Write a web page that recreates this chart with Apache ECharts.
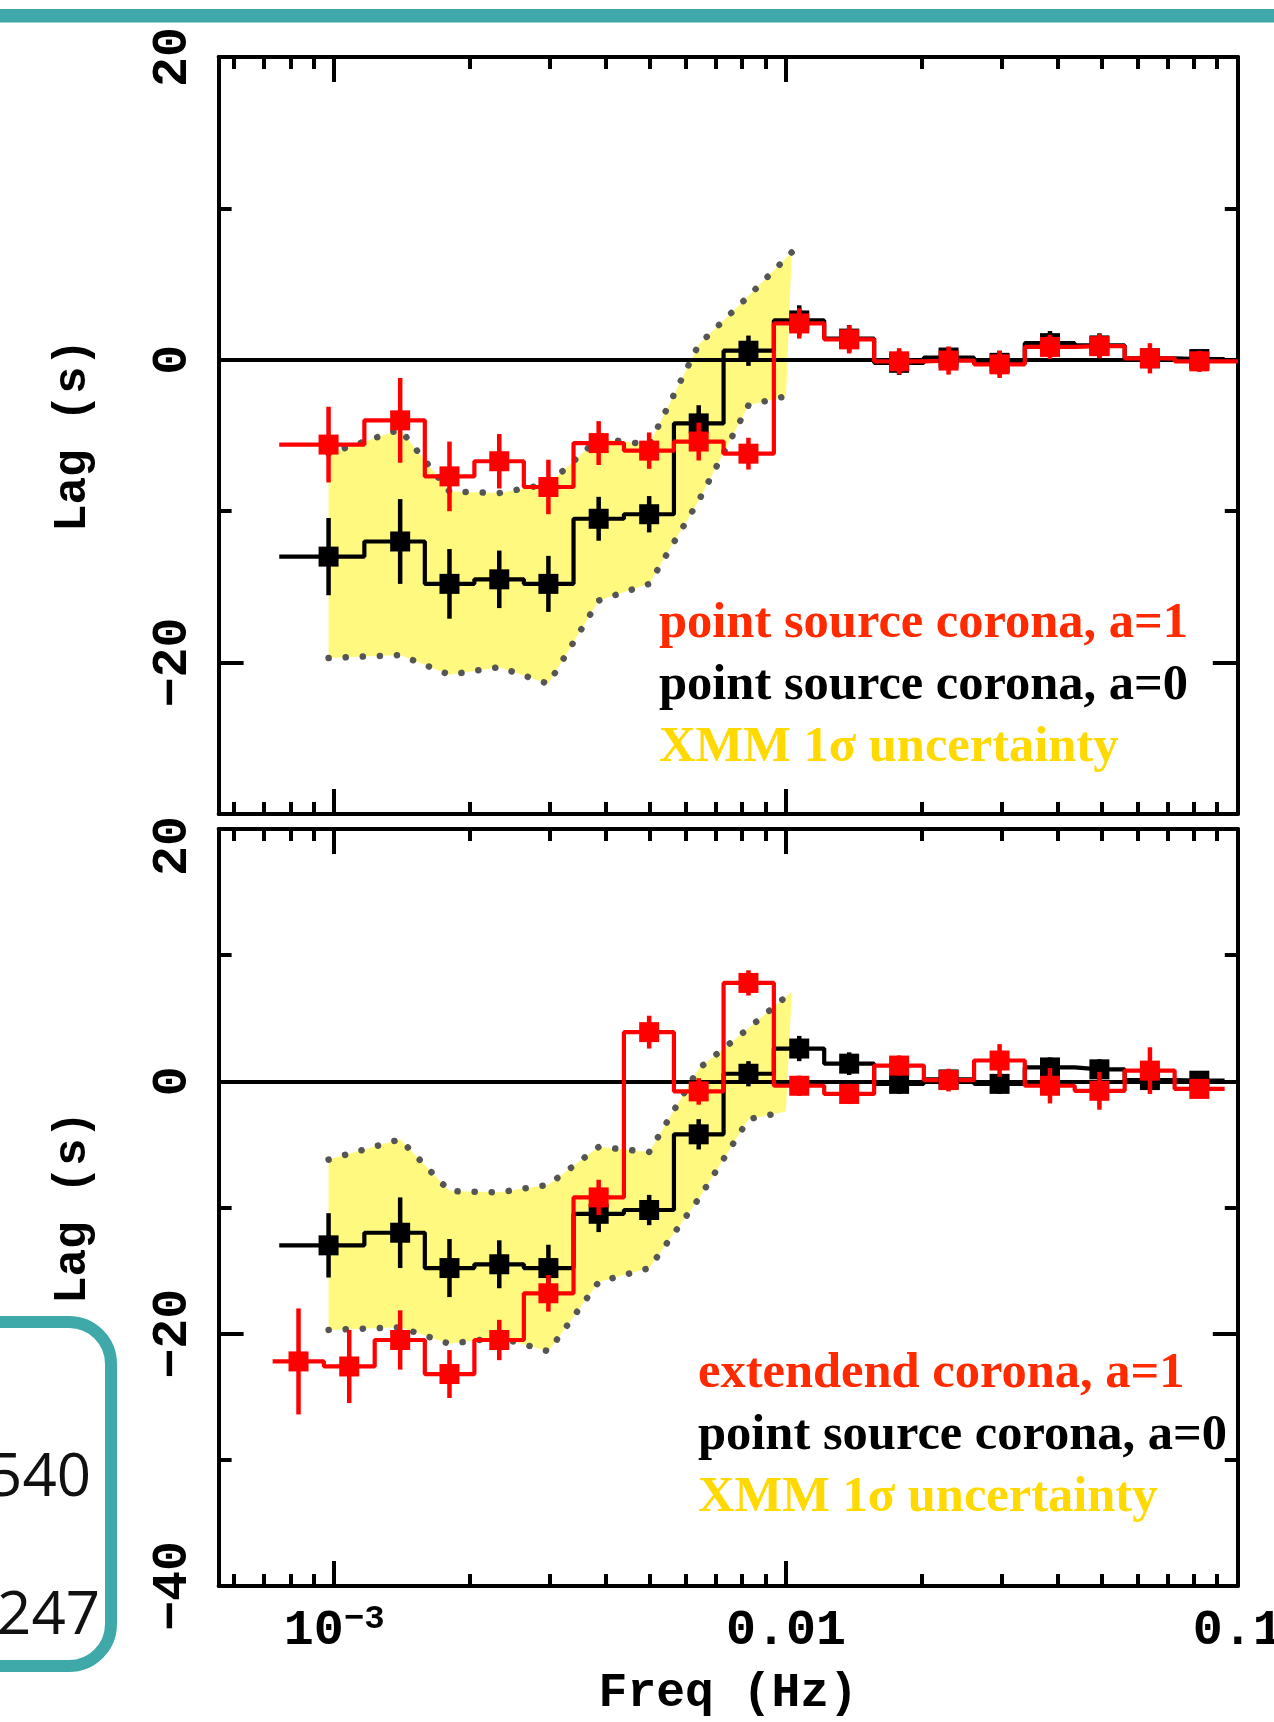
<!DOCTYPE html>
<html>
<head>
<meta charset="utf-8">
<script src="https://cdn.jsdelivr.net/npm/echarts@6/dist/echarts.min.js"></script>
<style>
  html, body { margin: 0; padding: 0; background: #fff; }
  #chart { width: 1274px; height: 1722px; }
</style>
</head>
<body>
<div id="chart"></div>
<script>
// bin frequencies (Hz)
const freq = [9.72e-4, 1.40e-3, 1.80e-3, 2.32e-3, 2.98e-3, 3.85e-3, 4.98e-3, 6.41e-3, 8.26e-3,
              1.07e-2, 1.38e-2, 1.78e-2, 2.29e-2, 2.97e-2, 3.84e-2, 4.94e-2, 6.39e-2, 8.22e-2];
const freqExt = [8.34e-4, 1.08e-3, 1.40e-3, 1.80e-3, 2.32e-3, 2.98e-3, 3.85e-3, 4.98e-3, 6.41e-3, 8.26e-3,
                 1.07e-2, 1.38e-2, 1.78e-2, 2.29e-2, 2.97e-2, 3.84e-2, 4.94e-2, 6.39e-2, 8.22e-2];

// point source corona, a=0 (black, both panels)
const lagA0 = [-13.0, -12.0, -14.8, -14.5, -14.8, -10.5, -10.2, -4.2, 0.6,
               2.6, 1.4, -0.2, 0.15, -0.2, 1.1, 0.95, 0.1, 0.05];
const errA0 = [2.55, 2.8, 2.3, 1.9, 1.85, 1.45, 1.2, 1.2, 1.0,
               1.0, 0.9, 0.8, 0.7, 0.8, 0.8, 0.8, 0.65, 0.6];
// point source corona, a=1 (red, top panel)
const lagA1 = [-5.6, -4.0, -7.7, -6.7, -8.4, -5.5, -6.0, -5.4, -6.2,
               2.4, 1.35, -0.1, -0.05, -0.3, 0.85, 0.9, 0.1, -0.1];
const errA1 = [2.5, 2.8, 2.3, 1.8, 1.8, 1.45, 1.2, 1.25, 1.05,
               1.0, 0.93, 0.87, 0.93, 0.9, 0.8, 0.8, 1.0, 0.7];
// extendend corona, a=1 (red, bottom panel)
const lagExt = [-22.2, -22.6, -20.5, -23.2, -20.5, -16.8, -9.2, 3.9, -0.8, 7.8,
                -0.35, -1.0, 1.25, 0.1, 1.65, -0.35, -0.75, 0.85, -0.6];
const errExt = [4.2, 2.9, 2.35, 1.9, 1.6, 1.45, 1.4, 1.3, 1.05, 1.0,
                0.8, 0.8, 0.8, 0.9, 1.3, 1.4, 1.5, 1.85, 0.6];

// first/last edges of the step histograms (Hz)
const stepA0 = [7.56e-4, 9.35e-2];
const stepA1 = [7.56e-4, 0.1];
const stepExt = [7.31e-4, 9.35e-2];

// XMM 1 sigma band
const bandFreqHi = [9.72e-4, 1.40e-3, 1.80e-3, 2.32e-3, 2.98e-3, 3.85e-3, 4.98e-3, 6.41e-3, 8.26e-3, 1.03e-2];
const bandFreqLo = [9.72e-4, 1.40e-3, 1.80e-3, 2.32e-3, 2.98e-3, 3.85e-3, 4.98e-3, 6.41e-3, 8.26e-3, 1.00e-2];
const bandHi = [-6.2, -4.6, -8.7, -8.8, -8.2, -5.2, -5.6, 1.0, 4.2, 7.1];
const bandLo = [-19.7, -19.5, -20.8, -20.3, -21.4, -15.9, -14.8, -9.3, -3.0, -2.4];

// axes
const xRange = [5.55e-4, 0.1];
const xMajor = [1e-3, 1e-2, 1e-1];
const xMinor = [6e-4, 7e-4, 8e-4, 9e-4, 2e-3, 3e-3, 4e-3, 5e-3, 6e-3, 7e-3, 8e-3, 9e-3,
                2e-2, 3e-2, 4e-2, 5e-2, 6e-2, 7e-2, 8e-2, 9e-2];
const yRangeTop = [-30, 20];
const yRangeBot = [-40, 20];
const yLabelsTop = [-20, 0, 20];
const yLabelsBot = [-40, -20, 0, 20];

const lg = f => Math.log10(f);
const MONO = 'Liberation Mono';
const SERIF = 'Liberation Serif';
const RED = '#ff0000';
const TEAL = '#3fa9a9';
const LW = 4;
const GRID_LEFT = 218.6, GRID_RIGHT = 36.2, GRID_H = 757;

const chart = echarts.init(document.getElementById('chart'));

function xAxes(g) {
  const base = {
    gridIndex: g, type: 'value', min: lg(xRange[0]), max: lg(xRange[1]),
    splitLine: {show: false}, axisLabel: {show: false}
  };
  const major = {inside: true, length: 25, lineStyle: {color: '#000', width: LW}, customValues: xMajor.map(lg)};
  const minor = {inside: true, length: 12, lineStyle: {color: '#000', width: LW}, customValues: xMinor.map(lg)};
  const line = {show: true, onZero: false, lineStyle: {color: '#000', width: LW}};
  const noLine = {show: false, onZero: false};
  const bottom = Object.assign({}, base, {position: 'bottom', axisLine: line, axisTick: major});
  if (g === 1) {
    bottom.axisLabel = {
      show: true, margin: 16, customValues: xMajor.map(lg),
      formatter: v => v < -2.5 ? '{b|10}{s|\u22123}' : (v < -1.5 ? '{b|0.01}' : '{b|0.1}'),
      rich: {
        b: {fontFamily: MONO, fontWeight: 'bold', fontSize: 50, lineHeight: 54, color: '#000', verticalAlign: 'bottom'},
        s: {fontFamily: MONO, fontWeight: 'bold', fontSize: 34, lineHeight: 34, color: '#000', verticalAlign: 'top'}
      }
    };
    bottom.name = 'Freq (Hz)';
    bottom.nameLocation = 'middle';
    bottom.nameGap = 84;
    bottom.nameTextStyle = {fontFamily: MONO, fontWeight: 'bold', fontSize: 48, color: '#000'};
  }
  return [
    bottom,
    Object.assign({}, base, {position: 'bottom', axisLine: noLine, axisTick: minor}),
    Object.assign({}, base, {position: 'top', axisLine: line, axisTick: major}),
    Object.assign({}, base, {position: 'top', axisLine: noLine, axisTick: minor})
  ];
}

function yAxes(g, range, labels) {
  const base = {gridIndex: g, type: 'value', min: range[0], max: range[1], splitLine: {show: false}, axisLabel: {show: false}};
  const major = {inside: true, length: 25, lineStyle: {color: '#000', width: LW}, customValues: labels};
  const minor = {inside: true, length: 13, lineStyle: {color: '#000', width: LW}};
  const line = {show: true, onZero: false, lineStyle: {color: '#000', width: LW}};
  const noLine = {show: false, onZero: false};
  const txt = {fontFamily: MONO, fontWeight: 'bold', fontSize: 50, color: '#000'};
  const left = Object.assign({}, base, {
    position: 'left', axisLine: line, axisTick: major,
    axisLabel: Object.assign({
      show: true, rotate: 90, margin: 20, customValues: labels,
      // bottom panel: the top "20" sits just inside the frame
      formatter: v => (g === 1 && v === 20) ? '{p|20}' : String(v).replace('-', '\u2212'),
      rich: {p: Object.assign({padding: [0, 34, 0, 0]}, txt)}
    }, txt),
    name: 'Lag (s)', nameLocation: 'middle', nameRotate: 90, nameGap: 122,
    nameTextStyle: {fontFamily: MONO, fontWeight: 'bold', fontSize: 46, color: '#000'}
  });
  return [
    left,
    Object.assign({}, base, {position: 'left', interval: 10, axisLine: noLine, axisTick: minor}),
    Object.assign({}, base, {position: 'right', axisLine: line, axisTick: major}),
    Object.assign({}, base, {position: 'right', interval: 10, axisLine: noLine, axisTick: minor})
  ];
}

function stepData(f, v, ends) {
  const d = [[lg(ends[0]), v[0]]];
  f.forEach((x, i) => d.push([lg(x), v[i]]));
  d.push([lg(ends[1]), v[v.length - 1]]);
  return d;
}

function errorBars(g, f, v, e, color, z) {
  return {
    type: 'custom', xAxisIndex: g * 4, yAxisIndex: g * 4, z: z,
    data: f.map((x, i) => [lg(x), v[i], e[i]]),
    encode: {x: 0, y: 1},
    renderItem: (params, api) => {
      const hi = api.coord([api.value(0), api.value(1) + api.value(2)]);
      const lo = api.coord([api.value(0), api.value(1) - api.value(2)]);
      return {type: 'line', shape: {x1: hi[0], y1: hi[1], x2: lo[0], y2: lo[1]},
              style: {stroke: color, lineWidth: 4.5}};
    }
  };
}

function markers(g, f, v, color, z) {
  return {
    type: 'scatter', xAxisIndex: g * 4, yAxisIndex: g * 4, z: z,
    symbol: 'rect', symbolSize: 20, itemStyle: {color: color, opacity: 1},
    data: f.map((x, i) => [lg(x), v[i]])
  };
}

function step(g, f, v, ends, color, z) {
  return {
    type: 'line', xAxisIndex: g * 4, yAxisIndex: g * 4, z: z, step: 'middle',
    showSymbol: false, symbol: 'none',
    lineStyle: {color: color, width: 4.2},
    data: stepData(f, v, ends)
  };
}

function band(g) {
  return {
    type: 'custom', xAxisIndex: g * 4, yAxisIndex: g * 4, z: 1,
    data: [[lg(bandFreqHi[0]), bandHi[0]]],
    renderItem: (params, api) => {
      const pts = [];
      bandFreqHi.forEach((x, i) => pts.push(api.coord([lg(x), bandHi[i]])));
      for (let i = bandFreqLo.length - 1; i >= 0; i--) pts.push(api.coord([lg(bandFreqLo[i]), bandLo[i]]));
      return {type: 'polygon', shape: {points: pts}, style: {fill: '#fffa7f'}};
    },
    markLine: {
      silent: true, symbol: ['none', 'none'], z: 3, label: {show: false},
      lineStyle: {color: '#000', width: LW, type: 'solid'},
      data: [{yAxis: 0}]
    }
  };
}

function bandEdge(g, f, v) {
  return {
    type: 'line', xAxisIndex: g * 4, yAxisIndex: g * 4, z: 2,
    showSymbol: false, symbol: 'none',
    lineStyle: {color: '#555', width: 6.5, type: [0.1, 17], cap: 'round'},
    data: f.map((x, i) => [lg(x), v[i]])
  };
}

function legendText(x, y, lines) {
  return lines.map((l, i) => ({
    type: 'text', x: x, y: y + i * 62, z: 10,
    style: {text: l[0], fill: l[1], font: 'bold 50.5px "' + SERIF + '"', textAlign: 'left', textVerticalAlign: 'middle'}
  }));
}

const series = [];
[0, 1].forEach(g => {
  series.push(band(g));
  series.push(bandEdge(g, bandFreqHi, bandHi));
  series.push(bandEdge(g, bandFreqLo, bandLo));
  series.push(step(g, freq, lagA0, stepA0, '#000', 3));
  if (g === 0) series.push(step(g, freq, lagA1, stepA1, RED, 4));
  else series.push(step(g, freqExt, lagExt, stepExt, RED, 4));
  series.push(errorBars(g, freq, lagA0, errA0, '#000', 5));
  series.push(markers(g, freq, lagA0, '#000', 6));
  if (g === 0) {
    series.push(errorBars(g, freq, lagA1, errA1, RED, 7));
    series.push(markers(g, freq, lagA1, RED, 8));
  } else {
    series.push(errorBars(g, freqExt, lagExt, errExt, RED, 7));
    series.push(markers(g, freqExt, lagExt, RED, 8));
  }
});

chart.setOption({
  backgroundColor: '#fff',
  animation: false,
  grid: [
    {left: GRID_LEFT, right: GRID_RIGHT, top: 57, height: GRID_H, outerBoundsMode: 'none'},
    {left: GRID_LEFT, right: GRID_RIGHT, top: 829, height: GRID_H, outerBoundsMode: 'none'}
  ],
  xAxis: xAxes(0).concat(xAxes(1)),
  yAxis: yAxes(0, yRangeTop, yLabelsTop).concat(yAxes(1, yRangeBot, yLabelsBot)),
  series: series,
  graphic: [
    {type: 'rect', shape: {x: 0, y: 9, width: 1274, height: 13.5}, style: {fill: TEAL}, z: 10},
    {type: 'rect', shape: {x: -60, y: 1322, width: 171, height: 344, r: 42},
     style: {fill: 'none', stroke: TEAL, lineWidth: 12}, z: 10},
    {type: 'text', x: 91, y: 1479, z: 10,
     style: {text: '540', fill: '#111', font: '60px "Open Sans"', textAlign: 'right', textVerticalAlign: 'middle'}},
    {type: 'text', x: 100, y: 1617, z: 10,
     style: {text: '247', fill: '#111', font: '60px "Open Sans"', textAlign: 'right', textVerticalAlign: 'middle'}}
  ].concat(legendText(659, 624, [
    ['point source corona, a=1', '#ff2a00'],
    ['point source corona, a=0', '#000'],
    ['XMM 1\u03c3 uncertainty', '#ffd900']
  ])).concat(legendText(698, 1374, [
    ['extendend corona, a=1', '#ff2a00'],
    ['point source corona, a=0', '#000'],
    ['XMM 1\u03c3 uncertainty', '#ffd900']
  ]))
});
</script>
</body>
</html>
